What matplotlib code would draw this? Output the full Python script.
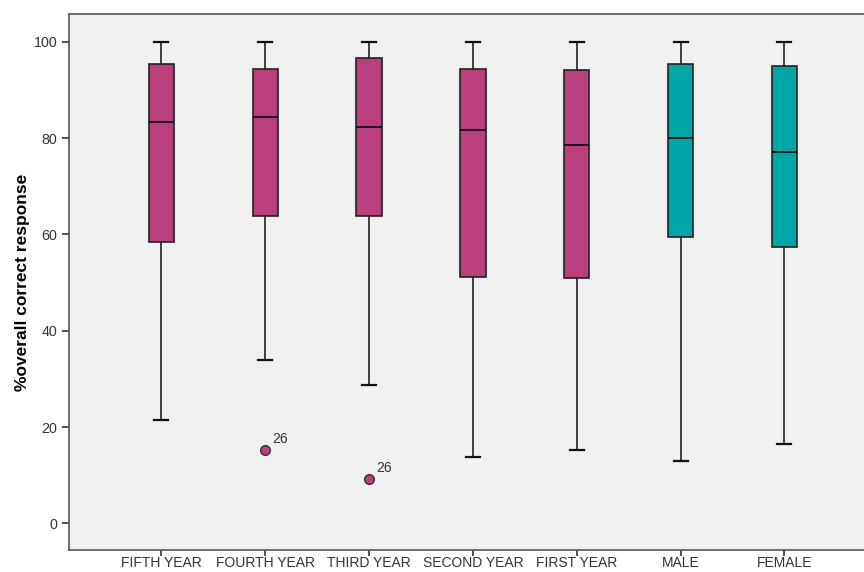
import matplotlib
matplotlib.use("Agg")
import matplotlib.pyplot as plt

# groups and box stats
groups = ["FIFTH YEAR", "FOURTH YEAR", "THIRD YEAR", "SECOND YEAR", "FIRST YEAR", "MALE", "FEMALE"]
whisker_hi = [100, 100, 100, 100, 100, 100, 100]
q3 = [95.3, 94.3, 96.6, 94.3, 94.1, 95.4, 95.0]
median = [83.4, 84.4, 82.3, 81.7, 78.5, 80.0, 77.1]
q1 = [58.4, 63.9, 63.8, 51.1, 51.0, 59.5, 57.3]
whisker_lo = [21.4, 34.0, 28.7, 13.7, 15.2, 13.0, 16.4]
outliers = [[], [15.2], [9.2], [], [], [], []]
outlier_ids = [[], ["26"], ["26"], [], [], [], []]
colors = ["#B9407C"] * 5 + ["#00A6A6"] * 2

plt.rcParams['font.family'] = ['Liberation Sans', 'DejaVu Sans']

fig = plt.figure(figsize=(8.64, 5.72), dpi=100)
ax = fig.add_axes([0.0802, 0.0385, 0.9298, 0.9365])
ax.set_facecolor("#F0F0F0")

stats = []
for i, g in enumerate(groups):
    stats.append(dict(label=g, whislo=whisker_lo[i], q1=q1[i], med=median[i],
                      q3=q3[i], whishi=whisker_hi[i], fliers=outliers[i]))

pos = list(range(1, len(groups) + 1))
bp = ax.bxp(stats, positions=pos, widths=0.245, patch_artist=True,
            capwidths=0.135,
            boxprops=dict(edgecolor="#222222", linewidth=1.2),
            medianprops=dict(color="#111111", linewidth=1.3),
            whiskerprops=dict(color="#222222", linewidth=1.2),
            capprops=dict(color="#111111", linewidth=1.6),
            flierprops=dict(marker="o", markersize=7, markeredgecolor="#333333",
                            markeredgewidth=1.0))
for patch, c in zip(bp["boxes"], colors):
    patch.set_facecolor(c)
for fl, c in zip(bp["fliers"], colors):
    fl.set_markerfacecolor(c)

# outlier case numbers
for i in range(len(groups)):
    for v, lab in zip(outliers[i], outlier_ids[i]):
        ax.annotate(lab, (pos[i], v), xytext=(5, 5), textcoords="offset points",
                    fontsize=10, color="#333333")

ax.set_xlim(0.113, 7.85)
ax.set_ylim(-5.5, 105.7)
ax.set_yticks([0, 20, 40, 60, 80, 100])
ax.set_xticks(pos)
ax.set_xticklabels(groups)
ax.tick_params(axis="both", direction="out", length=5, width=1.2, color="#333333",
               labelsize=10.3, labelcolor="#333333")
ax.tick_params(axis="x", length=4, pad=0.5, labelsize=10)
for s in ax.spines.values():
    s.set_color("#555555")
    s.set_linewidth(1.2)

ax.set_ylabel("%overall correct response", fontsize=12.5, fontweight="bold", labelpad=3)

fig.savefig("out.png", dpi=100, facecolor="white")
